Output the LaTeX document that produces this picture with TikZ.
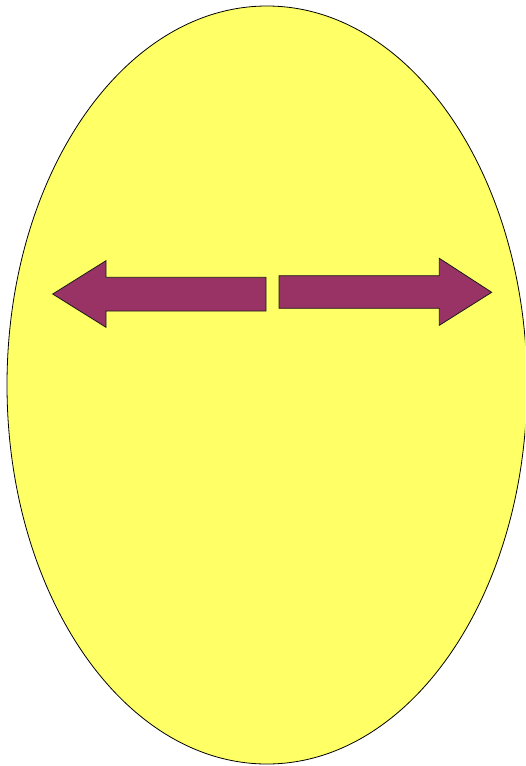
\documentclass[tikz,border=0pt]{standalone}
\definecolor{eggyellow}{HTML}{FFFF66}
\definecolor{arrowplum}{HTML}{993366}
\definecolor{outlinedark}{HTML}{1A1A1A}
\tikzset{
  eggshape/.style={fill=eggyellow, draw=black, line width=0.8pt},
  blockarrow/.style={fill=arrowplum, draw=outlinedark, line width=0.8pt, line join=miter}
}
\begin{document}
\begin{tikzpicture}[x=1pt,y=-1pt]
  \useasboundingbox (0,0) rectangle (525,766);
  \begin{scope}
    \clip (0,0) rectangle (525,766);
    \draw[eggshape] (267,385) ellipse [x radius=260, y radius=379];
  \end{scope}
  % left arrow
  \draw[blockarrow] (52.7,294) -- (106,260.7) -- (106,277.3) -- (266,277.3)
    -- (266,311) -- (106,311) -- (106,327.3) -- cycle;
  % right arrow
  \draw[blockarrow] (491.7,292.3) -- (439.3,258.3) -- (439.3,275.7) -- (279,275.7)
    -- (279,308.3) -- (439.3,308.3) -- (439.3,325.3) -- cycle;
\end{tikzpicture}
\end{document}
